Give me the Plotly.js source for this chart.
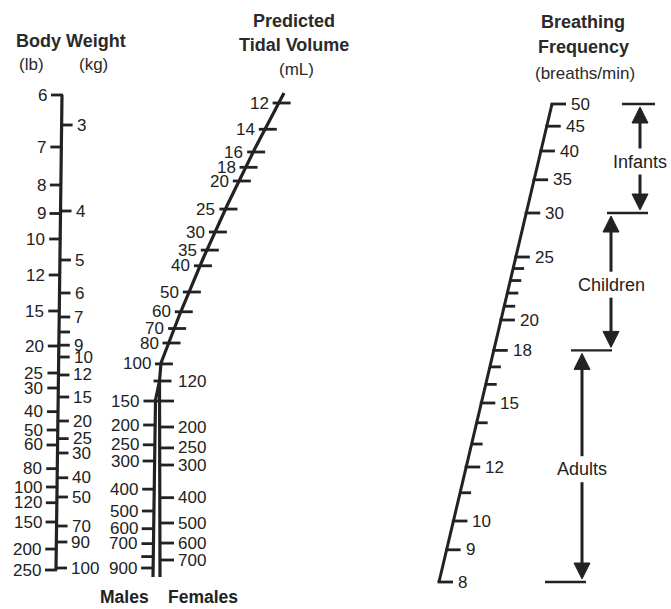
<!DOCTYPE html>
<html><head><meta charset="utf-8">
<script src="https://cdn.plot.ly/plotly-3.0.1.min.js"></script>
<style>html,body{margin:0;padding:0;background:#fff}#chart{width:671px;height:609px}</style>
</head><body><div id="chart"></div>
<script>
// ---------------- data ----------------
const weightLb = [6,7,8,9,10,12,15,20,25,30,40,50,60,80,100,120,150,200,250];
const weightKg = [3,4,5,6,7,8,9,10,12,15,20,25,30,40,50,70,90,100];
const weightKgUnlabeled = [8];
const tidalCommon = [12,14,16,18,20,25,30,35,40,50,60,70,80,100,120];
const tidalCommonRightLabel = [120];
const tidalMales = [150,200,250,300,400,500,600,700,800,900];
const tidalMalesUnlabeled = [800];
const tidalFemales = [150,200,250,300,400,500,600,700];
const tidalFemalesUnlabeled = [150];
const freqLabeled = [50,45,40,35,30,25,20,18,15,12,10,9,8];
const freqMinor = [24,23,22,21,17,16,14,13,11];
const groups = ['Infants','Children','Adults'];
const groupUpper = [50,30,18];
const groupLower = [30,18,8];

// ---------------- nomogram scale calibration (where selected values sit on each printed scale) ----------------
const lbCal = {v:[6,7,8,10,12,15,20,25,30,50,100,150,250], y:[95,147,185,239,275,311,346,373,388,430,487,522,570]};
const kgCal = {v:[3,4,5,6,7,10,15,20,30,50,70,90,100], y:[125,211,260,293,317,357,397,421,453,497,526,542,568]};
const freqCal = {v:[8,10,12,15,20,25,30,40,50], y:[582,521,467,403,320,257,213,151,104]};
const tvCommonCal = {v:[12,16,20,30,50,80,120], y:[103,152,181,232,292,343,381]};
const tvMaleCal = {v:[120,150,200,300,500,900], y:[381,401,425,461,511,568]};
const tvFemaleCal = {v:[120,150,200,300,500,700], y:[381,401,427,465,523,560]};

function logInterp(cal, v){
  const vs = cal.v, ys = cal.y;
  let i = 0;
  while (i < vs.length - 2 && v > vs[i+1]) i++;
  const t = (Math.log(v) - Math.log(vs[i])) / (Math.log(vs[i+1]) - Math.log(vs[i]));
  return ys[i] + t * (ys[i+1] - ys[i]);
}
const weightY = lb => logInterp(lbCal, lb);
const weightYkg = kg => logInterp(kgCal, kg);
const weightX = y => 62 - (y - 95) * 6 / 475;
const freqY = f => logInterp(freqCal, f);
const freqX = y => 439 + (582 - y) * 113 / 478;
const tvY = v => logInterp(tvCommonCal, v);
const tvMaleY = v => logInterp(tvMaleCal, v);
const tvFemaleY = v => logInterp(tvFemaleCal, v);
function tvX(y){ if (y <= 363){ const d = y - 93; return 284 - 0.5412*d + 0.000317*d*d; } return 161 + (y - 363) * (159.5 - 161) / 18; }
const maleX = y => 155.5 - (y - 400) * 2.5 / 177;
const femaleX = y => 160;

const FONT = 'Liberation Sans, Arial, Helvetica, sans-serif';
const INK = '#222222';
const TICKFS = 17;

const traces = [];
const annotations = [];
function lineTrace(xs, ys, w){ traces.push({type:'scatter', mode:'lines', x:xs, y:ys, line:{color:INK, width:w}, hoverinfo:'skip', cliponaxis:false}); }
function segs(list){ const xs=[], ys=[]; list.forEach(s=>{ xs.push(s[0], s[2], null); ys.push(s[1], s[3], null); }); return [xs, ys]; }
function label(text, x, y, anchor, opts){
  annotations.push(Object.assign({text:String(text), x:x, y:y, xref:'x', yref:'y', xanchor:anchor, yanchor:'middle', showarrow:false, borderpad:0,
    font:{family:FONT, size:TICKFS, color:INK}}, opts||{}));
}

// ---- body weight scale ----
{
  const yTop = weightY(weightLb[0]), yBot = weightY(weightLb[weightLb.length-1]);
  lineTrace([weightX(yTop), weightX(yBot)], [yTop, yBot], 3.2);
  const s = [];
  weightLb.forEach(v => { const y = weightY(v), x = weightX(y); s.push([x-11, y, x+1, y]); label(v, x-14, y, 'right'); });
  weightKg.forEach(v => { const y = weightYkg(v), x = weightX(y); s.push([x-1, y, x+11, y]); if (!weightKgUnlabeled.includes(v)) label(v, x+14, y, 'left'); });
  const [xs, ys] = segs(s); lineTrace(xs, ys, 2.8);
}

// ---- tidal volume scale ----
{
  const yTop = tvY(tidalCommon[0]) - 10, yJ = tvY(tidalCommon[tidalCommon.length-1]);
  const cx = [], cy = [];
  for (let y = yTop; y <= 363; y += 2){ cx.push(tvX(y)); cy.push(y); }
  cx.push(tvX(yJ)); cy.push(yJ);
  const yEnd = 577;
  cx.push(femaleX(yEnd)); cy.push(yEnd);
  lineTrace(cx, cy, 3.2);
  lineTrace([tvX(yJ), maleX(400), maleX(yEnd)], [yJ, 400, yEnd], 3.2);
  const s = [];
  tidalCommon.forEach(v => { const y = tvY(v), x = tvX(y); s.push([x-6, y, x+12, y]);
    if (tidalCommonRightLabel.includes(v)) label(v, x+17, y, 'left'); else label(v, x-9, y, 'right'); });
  tidalMales.forEach(v => { const y = tvMaleY(v), x = maleX(y); s.push([x-12, y, x+1, y]); if (!tidalMalesUnlabeled.includes(v)) label(v, x-15, y, 'right'); });
  tidalFemales.forEach(v => { const y = tvFemaleY(v), x = femaleX(y);
    const x0 = tidalFemalesUnlabeled.includes(v) ? maleX(y) : x - 1;
    s.push([x0, y, x+14, y]); if (!tidalFemalesUnlabeled.includes(v)) label(v, x+17, y, 'left'); });
  const [xs, ys] = segs(s); lineTrace(xs, ys, 2.8);
  label('<b>Males</b>', 124, 597, 'center', {font:{family:FONT, size:17.5, color:INK}});
  label('<b>Females</b>', 203, 597, 'center', {font:{family:FONT, size:17.5, color:INK}});
}

// ---- breathing frequency scale ----
{
  const yB = freqY(Math.min(...freqLabeled)), yT = freqY(Math.max(...freqLabeled));
  lineTrace([freqX(yB), freqX(yT)], [yB, yT], 3);
  const s = [];
  freqLabeled.forEach(v => { const y = freqY(v), x = freqX(y); s.push([x-1.5, y, x+14, y]); label(v, x+18, y, 'left'); });
  freqMinor.forEach(v => { const y = freqY(v), x = freqX(y); s.push([x-1, y, x+11, y]); });
  const [xs, ys] = segs(s); lineTrace(xs, ys, 2.8);
}

// ---- age group brackets ----
const shapes = [];
const groupColX = [640, 611, 582];
const boundaryVals = [50, 30, 18, 8];
const boundaryExtent = [[622,655],[607,648],[571,612],[545,586]];
boundaryVals.forEach((v, i) => {
  const y = freqY(v);
  shapes.push({type:'line', xref:'x', yref:'y', x0:boundaryExtent[i][0], x1:boundaryExtent[i][1], y0:y, y1:y, line:{color:INK, width:2.4}});
});
groups.forEach((g, i) => {
  const yt = freqY(groupUpper[i]), yb = freqY(groupLower[i]), x = groupColX[i];
  const ym = (yt + yb) / 2 + 3;
  const tipT = yt + 3, tipB = yb - 3, hh = 16, hw = 8;
  shapes.push({type:'path', xref:'x', yref:'y', path:`M${x},${tipT} L${x-hw},${tipT+hh} L${x+hw},${tipT+hh} Z`, fillcolor:INK, line:{color:INK, width:1}});
  shapes.push({type:'path', xref:'x', yref:'y', path:`M${x},${tipB} L${x-hw},${tipB-hh} L${x+hw},${tipB-hh} Z`, fillcolor:INK, line:{color:INK, width:1}});
  shapes.push({type:'line', xref:'x', yref:'y', x0:x, x1:x, y0:tipT+hh-1, y1:ym-13, line:{color:INK, width:3}});
  shapes.push({type:'line', xref:'x', yref:'y', x0:x, x1:x, y0:ym+13, y1:tipB-hh+1, line:{color:INK, width:3}});
  label(g, x, ym, 'center', {font:{family:FONT, size:18, color:INK}});
});

// ---- titles ----
const TB = {family:FONT, size:18, color:'#2a2a2a'};
const TN = {family:FONT, size:17, color:'#2a2a2a'};
label('<b>Body Weight</b>', 71, 41, 'center', {font:TB});
label('(lb)', 31, 64, 'center', {font:TN});
label('(kg)', 93, 64, 'center', {font:TN});
label('<b>Predicted</b>', 294, 21, 'center', {font:TB});
label('<b>Tidal Volume</b>', 294, 45, 'center', {font:TB});
label('(mL)', 296, 69, 'center', {font:TN});
label('<b>Breathing</b>', 583, 22, 'center', {font:TB});
label('<b>Frequency</b>', 583, 47, 'center', {font:TB});
label('(breaths/min)', 585, 73, 'center', {font:TN});

const layout = {
  width:671, height:609, margin:{l:0, r:0, t:0, b:0}, paper_bgcolor:'#ffffff', plot_bgcolor:'#ffffff',
  xaxis:{range:[0,671], visible:false, fixedrange:true},
  yaxis:{range:[609,0], visible:false, fixedrange:true},
  showlegend:false, annotations:annotations, shapes:shapes
};
Plotly.newPlot('chart', traces, layout, {staticPlot:true, displayModeBar:false});
</script></body></html>
